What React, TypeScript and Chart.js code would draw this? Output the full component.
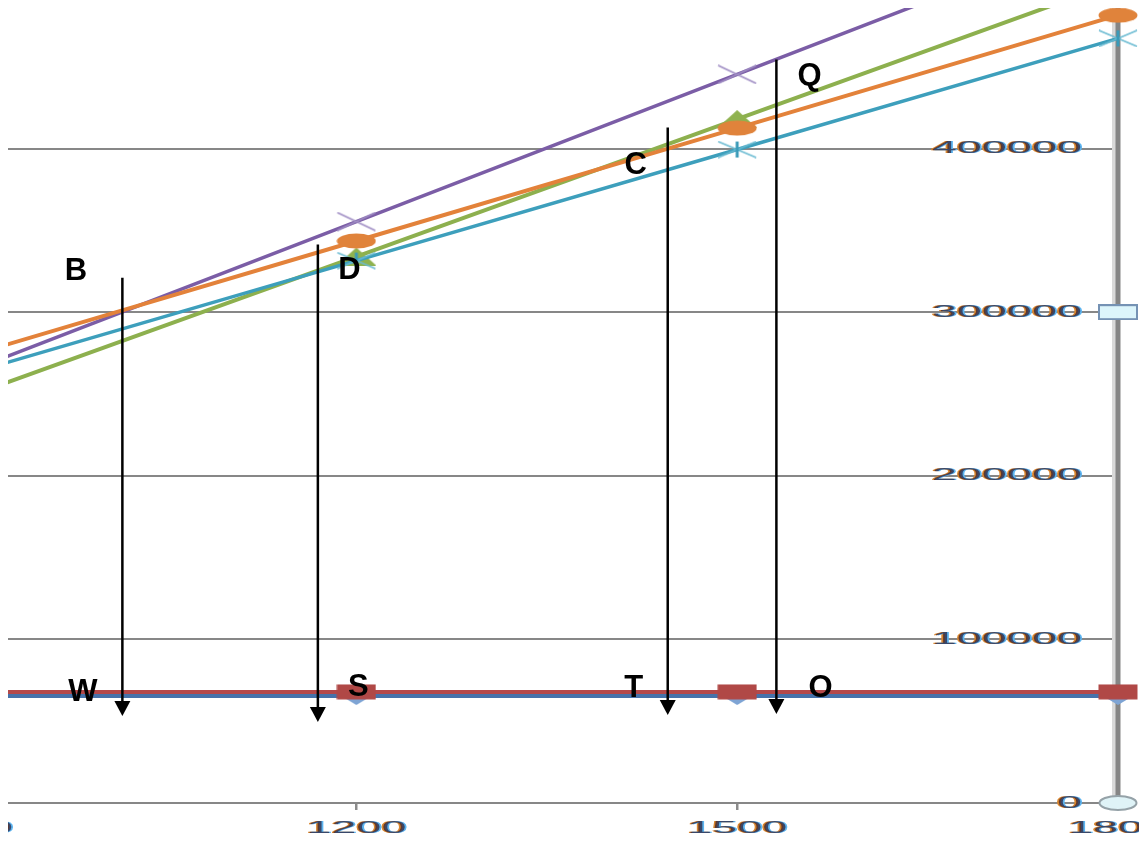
import React, { useEffect, useRef } from 'react';
import { Chart, registerables } from 'chart.js';
Chart.register(...registerables);

// ---- data ----
const xValues = [900, 1200, 1500, 1800];
const blueSeries = [65400, 65400, 65400, 65400];
const redSeries = [67900, 67900, 67900, 67900];
const greenSeries = [250000, 334000, 418000, 502000];
const purpleSeries = [265500, 355400, 445300, 535200];
const tealSeries = [263600, 331500, 399400, 467300];
const orangeSeries = [274500, 343500, 412500, 481500];
const axisLineX = [1800, 1800, 1800];
const axisLineY = [0, 300000, 600000];
const yTickValues = [0, 100000, 200000, 300000, 400000];
const xTickValues = [900, 1200, 1500, 1800];
const arrowX = [1015.7, 1169.7, 1445.3, 1530.9];
const arrowTop = [321100, 341300, 412800, 454400];
const arrowTip = [53200, 49500, 53800, 54400];
const labelText = ['B', 'D', 'C', 'Q', 'W', 'S', 'T', 'O'];
const labelX = [979.1, 1194.5, 1420.1, 1557.1, 984.6, 1201.6, 1418.5, 1565.7];
const labelY = [326300, 327200, 391400, 445300, 69100, 72200, 71600, 71600];

const X_MIN = 925.6;
const X_MAX = 1800;
const Y_MIN = 0;
const Y_MAX = 485900;

function makeMarker(w: number, h: number, draw: (c: CanvasRenderingContext2D, w: number, h: number) => void) {
  const cv = document.createElement('canvas');
  cv.width = w;
  cv.height = h;
  const c = cv.getContext('2d')!;
  draw(c, w, h);
  return cv;
}

function pts(xs: number[], ys: number[]) {
  return xs.map((x, i) => ({ x, y: ys[i] }));
}

function drawStretched(ctx: CanvasRenderingContext2D, text: string, x: number, y: number, align: 'right' | 'center') {
  const sx = 2.65;
  ctx.save();
  ctx.font = '17px "Liberation Sans"';
  ctx.textBaseline = 'middle';
  ctx.textAlign = 'left';
  const w = ctx.measureText(text).width * sx;
  const left = align === 'right' ? x - w : x - w / 2;
  const layers: [number, string, number][] = [
    [-1.6, '#d9862e', 1],
    [1.8, '#5cb4f0', 1],
    [0, '#2a1830', 0.7],
  ];
  for (const [dx, col, a] of layers) {
    ctx.save();
    ctx.globalAlpha = a;
    ctx.translate(left + dx, y);
    ctx.scale(sx, 1);
    ctx.fillStyle = col;
    ctx.fillText(text, 0, 0);
    ctx.restore();
  }
  ctx.restore();
}

const overlayPlugin = {
  id: 'overlay',
  beforeDatasetDraw(chart: any, args: any) {
    const ds = chart.data.datasets[args.index];
    chart.ctx.save();
    if (ds.shiftX) chart.ctx.translate(ds.shiftX, 0);
  },
  afterDatasetDraw(chart: any) {
    chart.ctx.restore();
  },
  afterDatasetsDraw(chart: any) {
    const ctx = chart.ctx as CanvasRenderingContext2D;
    const xs = chart.scales.x;
    const ys = chart.scales.y;
    const area = chart.chartArea;
    // tick labels
    ys.ticks.forEach((t: any) => {
      drawStretched(ctx, String(t.value), 1082, ys.getPixelForValue(t.value), 'right');
    });
    ctx.save();
    ctx.beginPath();
    ctx.rect(area.left, 0, chart.width, chart.height);
    ctx.clip();
    xs.ticks.forEach((t: any) => {
      drawStretched(ctx, String(t.value), xs.getPixelForValue(t.value), 828, 'center');
    });
    ctx.restore();
    // arrows
    ctx.save();
    ctx.strokeStyle = '#000';
    ctx.fillStyle = '#000';
    ctx.lineWidth = 2.5;
    arrowX.forEach((v, i) => {
      const px = xs.getPixelForValue(v);
      const top = ys.getPixelForValue(arrowTop[i]);
      const tip = ys.getPixelForValue(arrowTip[i]);
      ctx.beginPath();
      ctx.moveTo(px, top);
      ctx.lineTo(px, tip - 12);
      ctx.stroke();
      ctx.beginPath();
      ctx.moveTo(px - 8, tip - 15);
      ctx.lineTo(px + 8, tip - 15);
      ctx.lineTo(px, tip);
      ctx.closePath();
      ctx.fill();
    });
    // letters
    ctx.font = 'bold 31px "Liberation Sans"';
    ctx.textAlign = 'center';
    ctx.textBaseline = 'alphabetic';
    labelText.forEach((s, i) => {
      const px = xs.getPixelForValue(labelX[i]);
      const py = ys.getPixelForValue(labelY[i]);
      ctx.fillText(s, px, py + 11);
    });
    ctx.restore();
  },
};

export default function App() {
  const ref = useRef<HTMLCanvasElement>(null);
  useEffect(() => {
    document.body.style.margin = '0';
    const W = 40;
    const H = 16;
    const orangeMarker = makeMarker(W, H, (c, w, h) => {
      c.fillStyle = '#e0833b';
      c.beginPath();
      c.ellipse(w / 2, h / 2, 19.5, 7.5, 0, 0, Math.PI * 2);
      c.fill();
    });
    const redMarker = makeMarker(W, H, (c) => {
      c.fillStyle = '#b04846';
      c.fillRect(0.5, 0.5, 39, 15);
    });
    const blueMarker = makeMarker(30, 18, (c) => {
      c.fillStyle = '#7ea4d4';
      c.beginPath();
      c.moveTo(0, 9);
      c.lineTo(15, 0);
      c.lineTo(30, 9);
      c.lineTo(15, 18);
      c.closePath();
      c.fill();
    });
    const greenMarker = makeMarker(W, 18, (c) => {
      c.fillStyle = '#8fb24f';
      c.beginPath();
      c.moveTo(20, 0);
      c.lineTo(40, 18);
      c.lineTo(0, 18);
      c.closePath();
      c.fill();
    });
    const purpleMarker = makeMarker(W, 20, (c) => {
      c.strokeStyle = '#a08ec4';
      c.lineWidth = 1.6;
      c.beginPath();
      c.moveTo(1, 1);
      c.lineTo(39, 19);
      c.moveTo(1, 19);
      c.lineTo(39, 1);
      c.stroke();
    });
    const tealMarker = makeMarker(W, 18, (c) => {
      c.strokeStyle = '#6bbbd2';
      c.lineWidth = 1.4;
      c.beginPath();
      c.moveTo(1, 1);
      c.lineTo(39, 17);
      c.moveTo(1, 17);
      c.lineTo(39, 1);
      c.stroke();
      c.strokeStyle = '#3a9ab8';
      c.lineWidth = 3;
      c.beginPath();
      c.moveTo(20, 1);
      c.lineTo(20, 17);
      c.stroke();
    });
    const grayRect = makeMarker(W, H, (c) => {
      c.fillStyle = '#dcf5fb';
      c.strokeStyle = '#7592b4';
      c.lineWidth = 2;
      c.fillRect(1, 1, 38, 14);
      c.strokeRect(1, 1, 38, 14);
    });
    const grayEllipse = makeMarker(W, H, (c, w, h) => {
      c.fillStyle = '#dff3f7';
      c.strokeStyle = '#95a2a8';
      c.lineWidth = 2;
      c.beginPath();
      c.ellipse(w / 2, h / 2, 18.5, 7, 0, 0, Math.PI * 2);
      c.fill();
      c.stroke();
    });

    const clipSides = { left: 0, top: 0, right: false, bottom: false };
    const base = { showLine: true, pointRadius: 4, clip: clipSides as any };

    const chart = new Chart(ref.current!, {
      type: 'scatter',
      data: {
        datasets: [
          { ...base, label: 'orange', data: pts(xValues, orangeSeries), borderColor: '#e3823a', borderWidth: 4, pointStyle: orangeMarker as any },
          { ...base, label: 'purple', data: pts(xValues, purpleSeries), borderColor: '#7b5da6', borderWidth: 3.5, pointStyle: purpleMarker as any },
          { ...base, label: 'teal', data: pts(xValues, tealSeries), borderColor: '#3d9fbc', borderWidth: 3.5, pointStyle: tealMarker as any },
          { ...base, label: 'green', data: pts(xValues, greenSeries), borderColor: '#8db04e', borderWidth: 4, pointStyle: greenMarker as any },
          { ...base, label: 'red', data: pts(xValues, redSeries), borderColor: '#b4494a', borderWidth: 4, pointStyle: redMarker as any },
          { ...base, label: 'blue', data: pts(xValues, blueSeries), borderColor: '#4672aa', borderWidth: 4, pointStyle: blueMarker as any },
          { ...base, label: 'axis', data: pts(axisLineX, axisLineY), borderColor: '#858585', borderWidth: 5, pointRadius: [4, 4, 0] as any, pointStyle: [grayEllipse, grayRect, grayRect] as any },
          { ...base, label: 'axis-shade', shiftX: -4, data: pts(axisLineX, axisLineY), borderColor: '#d9d9d9', borderWidth: 4, pointRadius: 0 } as any,
        ],
      },
      options: {
        animation: false,
        responsive: false,
        maintainAspectRatio: false,
        layout: { autoPadding: false, padding: { left: 8, top: 8, right: 0, bottom: 0 } },
        plugins: { legend: { display: false }, tooltip: { enabled: false } },
        scales: {
          x: {
            type: 'linear',
            min: X_MIN,
            max: X_MAX,
            position: 'bottom',
            afterBuildTicks: (s: any) => { s.ticks = xTickValues.map((v) => ({ value: v })); },
            afterFit: (s: any) => { s.height = 45; },
            grid: { drawOnChartArea: false, drawTicks: true, tickLength: 7, color: '#8c8c8c', lineWidth: 2.5 },
            border: { display: false },
            ticks: { display: false },
          },
          y: {
            type: 'linear',
            min: Y_MIN,
            max: Y_MAX,
            position: 'right',
            afterBuildTicks: (s: any) => { s.ticks = yTickValues.map((v) => ({ value: v })); },
            afterFit: (s: any) => { s.width = 21; },
            grid: { drawTicks: false, color: '#878787', lineWidth: 2 },
            border: { display: false },
            ticks: { display: false },
          },
        },
      } as any,
      plugins: [overlayPlugin],
    });
    return () => chart.destroy();
  }, []);
  return <canvas ref={ref} width={1139} height={848} style={{ display: 'block' }} />;
}
